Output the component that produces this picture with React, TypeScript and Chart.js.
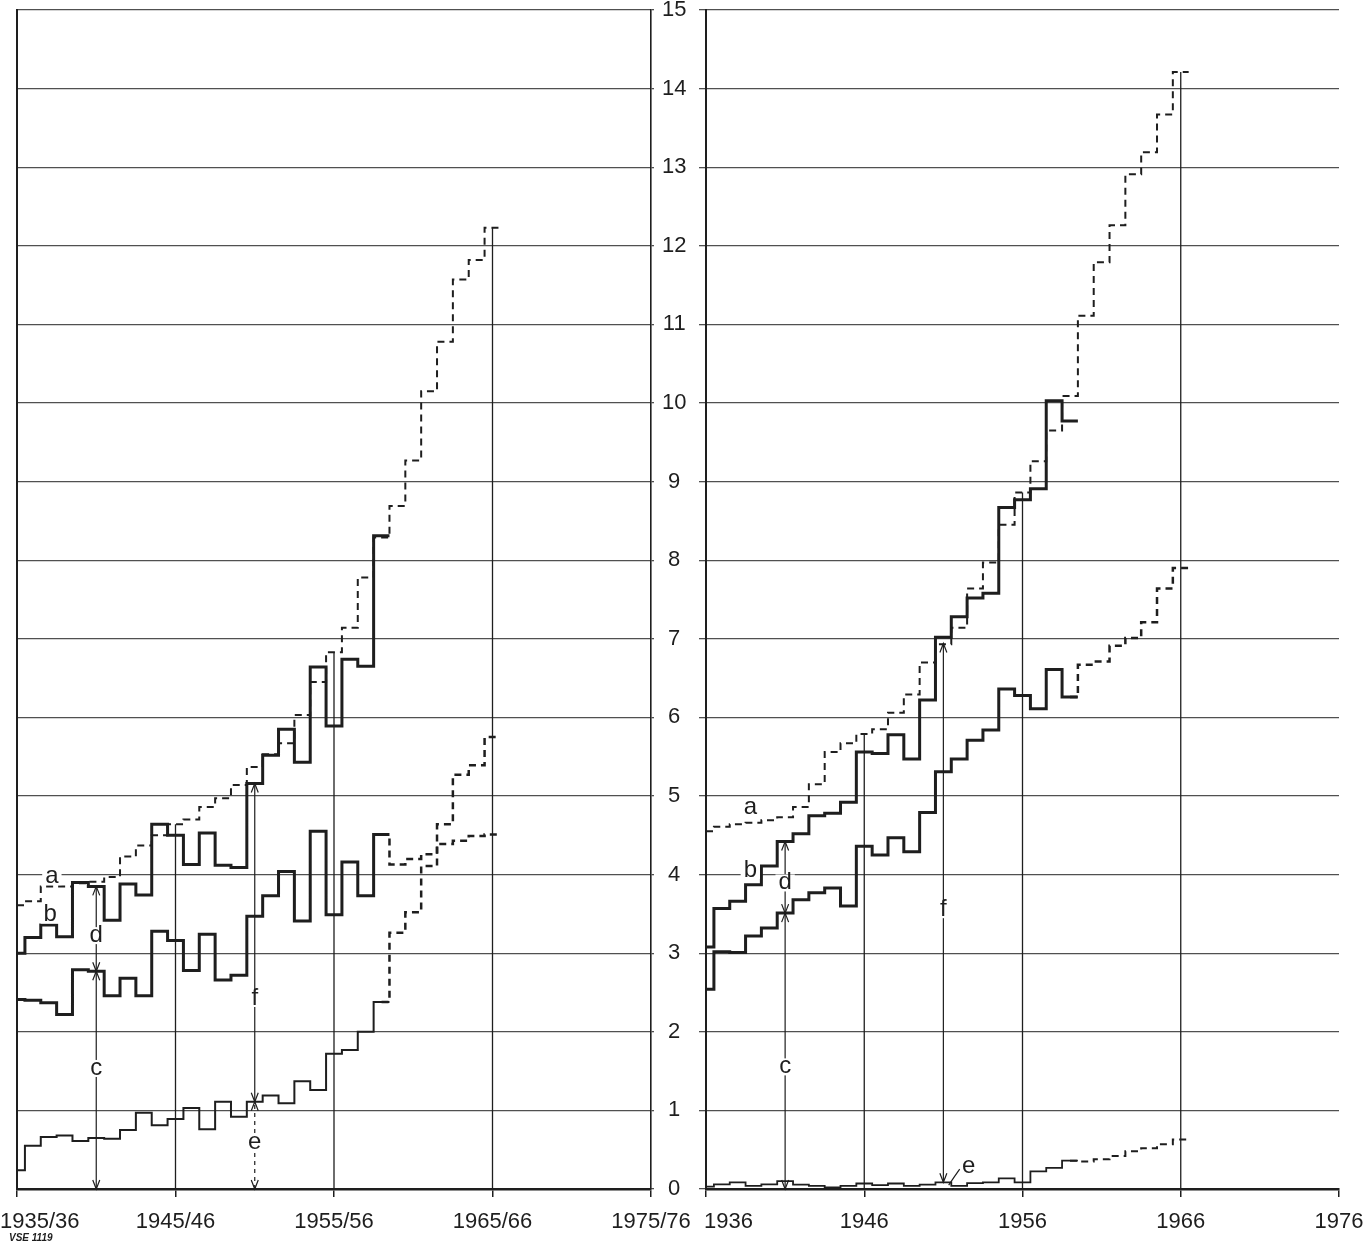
import { useEffect, useRef } from "react"
import { Chart, registerables } from "chart.js"

Chart.register(...registerables)

const FONT = "'Liberation Sans Narrow', 'Liberation Sans', Arial, sans-serif"
const INK = "#1e1e1e"
const GRID = "#505050"

// x = years after the first year of each panel (0 = 1935/36 resp. 1936)
const tickYears = [0, 10, 20, 30, 40]
const leftTickLabels = ["1935/36", "1945/46", "1955/56", "1965/66", "1975/76"]
const rightTickLabels = ["1936", "1946", "1956", "1966", "1976"]

// left panel: 1935/36 .. 1965/66
const leftA = [3.61, 3.66, 3.85, 3.85, 3.89, 3.91, 3.97, 4.23, 4.37, 4.5, 4.64, 4.7, 4.86, 4.97, 5.14, 5.37, 5.53, 5.67, 6.03, 6.45, 6.83, 7.14, 7.78, 8.29, 8.69, 9.27, 10.15, 10.78, 11.57, 11.82, 12.23]
const leftB = [3.0, 3.2, 3.36, 3.21, 3.9, 3.85, 3.42, 3.88, 3.74, 4.64, 4.5, 4.13, 4.53, 4.12, 4.09, 5.16, 5.52, 5.85, 5.43, 6.64, 5.89, 6.74, 6.65, 8.31]
const leftC = [2.41, 2.4, 2.37, 2.22, 2.79, 2.77, 2.46, 2.68, 2.46, 3.28, 3.16, 2.78, 3.24, 2.66, 2.72, 3.47, 3.73, 4.04, 3.41, 4.55, 3.49, 4.16, 3.73, 4.51]
const leftCForecast = [4.13, 4.2, 4.26, 4.39, 4.43, 4.49, 4.51]
const leftE = [0.24, 0.55, 0.66, 0.68, 0.61, 0.65, 0.64, 0.75, 0.97, 0.81, 0.89, 1.03, 0.76, 1.11, 0.92, 1.11, 1.19, 1.09, 1.37, 1.26, 1.72, 1.77, 2.0, 2.38]
const leftEForecast = [3.26, 3.52, 4.11, 4.64, 5.27, 5.39, 5.75]

// right panel: 1936 .. 1966
const rightA = [4.55, 4.61, 4.64, 4.66, 4.69, 4.73, 4.86, 5.15, 5.56, 5.67, 5.79, 5.85, 6.06, 6.29, 6.7, 6.93, 7.14, 7.64, 7.97, 8.45, 8.86, 9.26, 9.65, 10.09, 11.11, 11.79, 12.26, 12.91, 13.19, 13.67, 14.21]
const rightB = [3.08, 3.57, 3.66, 3.87, 4.11, 4.42, 4.52, 4.75, 4.78, 4.92, 5.56, 5.54, 5.78, 5.47, 6.22, 7.02, 7.28, 7.52, 7.58, 8.67, 8.77, 8.91, 10.03, 9.77]
const rightC = [2.54, 3.02, 3.01, 3.22, 3.32, 3.51, 3.68, 3.77, 3.83, 3.6, 4.36, 4.25, 4.47, 4.29, 4.79, 5.31, 5.47, 5.71, 5.84, 6.36, 6.28, 6.11, 6.61, 6.26]
const rightCForecast = [6.67, 6.71, 6.91, 7.01, 7.21, 7.64, 7.9]
const rightE = [0.03, 0.06, 0.085, 0.04, 0.06, 0.1, 0.055, 0.04, 0.02, 0.04, 0.07, 0.05, 0.07, 0.04, 0.055, 0.085, 0.04, 0.076, 0.085, 0.136, 0.085, 0.225, 0.27, 0.36]
const rightEForecast = [0.35, 0.38, 0.42, 0.48, 0.52, 0.57, 0.63]

// letters in data coordinates
const leftLetters = [
  { text: "a", x: 2.2, y: 3.98 },
  { text: "b", x: 2.1, y: 3.49 },
  { text: "d", x: 5, y: 3.23 },
  { text: "c", x: 5, y: 1.54 },
  { text: "f", x: 15, y: 2.43 },
  { text: "e", x: 15, y: 0.59 },
]
const rightLetters = [
  { text: "a", x: 2.8, y: 4.85 },
  { text: "b", x: 2.8, y: 4.06 },
  { text: "d", x: 5, y: 3.9 },
  { text: "c", x: 5, y: 1.56 },
  { text: "f", x: 15, y: 3.56 },
  { text: "e", x: 16.6, y: 0.29 },
]

type Pt = { x: number; y: number }

// one step per year, centred on the year
function steps(values: number[], start: number): Pt[] {
  const pts = values.map((y, i) => ({ x: start + i, y }))
  pts.push({ x: start + values.length - 0.5, y: values[values.length - 1] })
  return pts
}

function line(data: Pt[], width: number, dash: number[] = [], order = 0) {
  return {
    data,
    borderColor: INK,
    borderWidth: width,
    borderDash: dash,
    borderCapStyle: "butt" as const,
    borderJoinStyle: "miter" as const,
    stepped: "middle" as const,
    pointRadius: 0,
    fill: false,
    yAxisID: "y",
    order,
  }
}

function head(ctx: CanvasRenderingContext2D, x: number, y: number, up: boolean) {
  const d = up ? 9 : -9
  ctx.beginPath()
  ctx.moveTo(x - 3.5, y + d)
  ctx.lineTo(x, y)
  ctx.lineTo(x + 3.5, y + d)
  ctx.stroke()
}

function makeChart(canvas: HTMLCanvasElement, side: "left" | "right") {
  const isLeft = side === "left"
  const A = isLeft ? leftA : rightA
  const B = isLeft ? leftB : rightB
  const C = isLeft ? leftC : rightC
  const E = isLeft ? leftE : rightE
  const CF = isLeft ? leftCForecast : rightCForecast
  const EF = isLeft ? leftEForecast : rightEForecast
  const letters = isLeft ? leftLetters : rightLetters
  const tickLabels = isLeft ? leftTickLabels : rightTickLabels

  const drops = [10, 20, 30].map((k) =>
    line([{ x: k, y: 0 }, { x: k, y: A[k] }], 1.3, [], 5)
  )
  drops.forEach((d) => ((d as any).stepped = false))

  const datasets = [
    ...drops,
    line(steps(A, 0), 2, [7, 5], 1),
    line(steps(B, 0), 3),
    line(steps(C, 0), 3),
    line(steps(E, 0), isLeft ? 2 : 1.8),
    line(steps([C[C.length - 1], ...CF], C.length - 1), 2.5, [7, 5]),
    line(steps([E[E.length - 1], ...EF], E.length - 1), isLeft ? 2.5 : 2, [7, 5]),
  ]

  const arrows = isLeft
    ? [
        { x: 5, from: 0, to: C[5], dash: false },
        { x: 5, from: C[5], to: B[5], dash: false },
        { x: 15, from: E[15], to: B[15], dash: false },
        { x: 15, from: 0, to: E[15], dash: true },
      ]
    : [
        { x: 5, from: 0, to: C[5], dash: false },
        { x: 5, from: C[5], to: B[5], dash: false },
        { x: 15, from: E[15], to: B[15] - 0.08, dash: false },
      ]

  const annotate = {
    id: "annotate",
    afterDatasetsDraw(chart: Chart) {
      const ctx = chart.ctx
      const xs = chart.scales.x
      const ys = chart.scales.y
      const X = (v: number) => xs.getPixelForValue(v)
      const Y = (v: number) => ys.getPixelForValue(v)
      ctx.save()
      ctx.strokeStyle = INK
      ctx.lineWidth = 1.2
      for (const a of arrows) {
        const x = X(a.x)
        const y0 = Y(a.from)
        const y1 = Y(a.to)
        ctx.setLineDash(a.dash ? [4, 4] : [])
        ctx.beginPath()
        ctx.moveTo(x, y0)
        ctx.lineTo(x, y1)
        ctx.stroke()
        ctx.setLineDash([])
        head(ctx, x, y0, false)
        head(ctx, x, y1, true)
      }

      ctx.font = `24px ${FONT}`
      ctx.textAlign = "center"
      ctx.textBaseline = "middle"
      for (const l of letters) {
        const x = X(l.x)
        const y = Y(l.y)
        const w = ctx.measureText(l.text).width
        ctx.fillStyle = "#fff"
        ctx.fillRect(x - w / 2 - 3, y - 8, w + 6, 17)
        ctx.fillStyle = INK
        ctx.fillText(l.text, x, y)
      }
      if (!isLeft) {
        // leader from the small "e" to its line
        const l = letters[letters.length - 1]
        const x = X(l.x)
        const y = Y(l.y)
        ctx.beginPath()
        ctx.moveTo(x - 9, y + 3)
        ctx.quadraticCurveTo(x - 14, y + 10, x - 20, y + 19)
        ctx.stroke()
      }

      // year labels under the axis
      ctx.font = `22px ${FONT}`
      ctx.fillStyle = INK
      tickLabels.forEach((t, i) => {
        const x = X(tickYears[i])
        if (i === 0) {
          ctx.textAlign = "left"
          ctx.fillText(t, isLeft ? x - 17 : x - 2, ys.bottom + 33)
        } else {
          ctx.textAlign = "center"
          ctx.fillText(t, x, ys.bottom + 33)
        }
      })
      if (isLeft) {
        ctx.font = `italic bold 10px ${FONT}`
        ctx.textAlign = "left"
        ctx.fillText("VSE 1119", 9, 1238)
      }
      ctx.restore()
    },
  }

  const scales: any = {
    x: {
      type: "linear",
      min: 0,
      max: 40,
      ticks: { stepSize: 10, display: false },
      grid: { drawOnChartArea: false, drawTicks: true, tickLength: 8, color: INK, lineWidth: 1.5 },
      border: { display: true, color: INK, width: 2.5 },
      afterFit: (s: any) => {
        s.height = 53
        s.paddingLeft = 0
        s.paddingRight = 0
      },
    },
    y: isLeft
      ? {
          type: "linear",
          position: "right",
          min: 0,
          max: 15,
          ticks: {
            stepSize: 1,
            color: INK,
            padding: 8,
            crossAlign: "center",
            font: { family: FONT, size: 22 },
          },
          grid: { color: GRID, lineWidth: 1.3, tickLength: 3 },
          border: { display: true, color: INK, width: 1.6 },
          afterFit: (s: any) => {
            s.width = 49
            s.paddingTop = 0
            s.paddingBottom = 0
          },
        }
      : {
          type: "linear",
          position: "left",
          min: 0,
          max: 15,
          ticks: { stepSize: 1, display: false },
          grid: { color: GRID, lineWidth: 1.3, tickLength: 7 },
          border: { display: true, color: INK, width: 2 },
          afterFit: (s: any) => {
            s.width = 7
            s.paddingTop = 0
            s.paddingBottom = 0
          },
        },
  }
  if (isLeft) {
    scales.yl = {
      type: "linear",
      position: "left",
      min: 0,
      max: 15,
      ticks: { display: false },
      grid: { display: false, drawTicks: false },
      border: { display: true, color: INK, width: 2 },
      afterFit: (s: any) => {
        s.width = 0
      },
    }
  }

  return new Chart(canvas, {
    type: "line",
    data: { datasets: datasets as any },
    options: {
      animation: false,
      responsive: false,
      events: [],
      layout: {
        padding: isLeft
          ? { left: 17, top: 10, right: 0, bottom: 0 }
          : { left: 9, top: 10, right: 26, bottom: 0 },
      },
      plugins: { legend: { display: false }, tooltip: { enabled: false } },
      scales,
    },
    plugins: [annotate],
  })
}

function Panel({ side, left, width }: { side: "left" | "right"; left: number; width: number }) {
  const ref = useRef<HTMLCanvasElement>(null)

  useEffect(() => {
    if (!ref.current) return
    const chart = makeChart(ref.current, side)
    return () => chart.destroy()
  }, [side])

  return (
    <canvas
      ref={ref}
      width={width}
      height={1242}
      style={{ position: "absolute", left, top: 0, width, height: 1242 }}
    />
  )
}

export default function App() {
  return (
    <div
      style={{
        position: "absolute",
        left: 0,
        top: 0,
        width: 1365,
        height: 1242,
        background: "#fff",
        overflow: "hidden",
      }}
    >
      <Panel side="left" left={0} width={700} />
      <Panel side="right" left={690} width={675} />
    </div>
  )
}
